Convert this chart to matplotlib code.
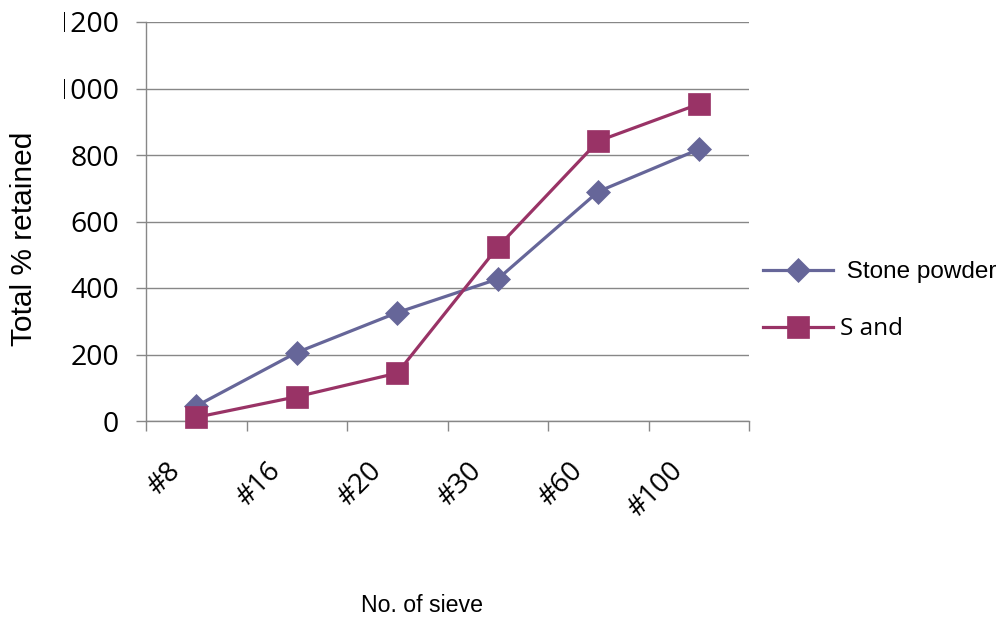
import matplotlib
matplotlib.use("Agg")
import matplotlib.pyplot as plt
from matplotlib.transforms import Bbox, TransformedBbox, IdentityTransform, ScaledTranslation

categories = ["#8", "#16", "#20", "#30", "#60", "#100"]
stone_powder = [45, 206, 326, 427, 690, 817]
sand = [11, 73, 144, 523, 842, 953]
y_ticks = [0, 200, 400, 600, 800, 1000, 1200]

W, H = 1005, 617
fig = plt.figure(figsize=(W / 100, H / 100), dpi=100)
ax = fig.add_axes([146 / W, 1 - 421 / H, 603 / W, 399 / H])

grid_c = "#878787"
x = list(range(len(categories)))

l1, = ax.plot(x, stone_powder, color="#666699", lw=2.3, marker="D", ms=12.5,
              mec="#666699", mew=0.5, zorder=3, clip_on=False)
l2, = ax.plot(x, sand, color="#993366", lw=2.3, marker="s", ms=15.5,
              mec="#993366", mew=0.5, zorder=4, clip_on=False)

ax.set_xlim(-0.5, len(categories) - 0.5)
ax.set_ylim(0, 1200)
ax.set_yticks(y_ticks)
ax.set_yticklabels([str(v) for v in y_ticks], fontfamily="Open Sans", fontsize=20.5)
ax.yaxis.grid(True, color=grid_c, lw=1.0)
ax.set_axisbelow(True)

ax.set_xticks([i - 0.5 for i in range(len(categories) + 1)])
ax.set_xticklabels([])
ax.set_xticks(x, minor=True)
ax.set_xticklabels(categories, minor=True, rotation=45, ha="right", va="top",
                   fontfamily="Open Sans", fontsize=20)
ax.tick_params(axis="x", which="minor", length=0, pad=26)
ax.tick_params(axis="x", which="major", length=7, color=grid_c, width=1.0)
ax.tick_params(axis="y", length=7.2, color=grid_c, width=1.0, pad=12)

off = ScaledTranslation(-10 / 100, 0, fig.dpi_scale_trans)
for lab in ax.get_xticklabels(minor=True):
    lab.set_transform(lab.get_transform() + off)

clip = TransformedBbox(Bbox([[64, 0], [W, H]]), IdentityTransform())
for lab in ax.get_yticklabels():
    lab.set_clip_box(clip)
    lab.set_clip_on(True)

for s in ["top", "right"]:
    ax.spines[s].set_visible(False)
for s in ["left", "bottom"]:
    ax.spines[s].set_color(grid_c)
    ax.spines[s].set_linewidth(1.0)

fig.text(24 / W, 1 - 239 / H, "Total % retained", rotation=90, ha="center", va="center",
         fontfamily="Liberation Sans", fontsize=21.5)
fig.text(422 / W, 1 - 611.5 / H, "No. of sieve", ha="center", va="baseline",
         fontfamily="Liberation Sans", fontsize=16.7)

leg = ax.legend([l1, l2], [" Stone powder", "S and"], loc="upper left",
                bbox_to_anchor=(763 / W, 1 - 261 / H), bbox_transform=fig.transFigure,
                frameon=False, borderpad=0, borderaxespad=0, handlelength=2.9,
                handletextpad=0.25, labelspacing=1.4, numpoints=1,
                prop={"family": "Liberation Sans", "size": 17.5})
leg.get_texts()[1].set_fontfamily("Open Sans")
leg.get_texts()[1].set_fontsize(17.5)

fig.savefig("out.png", dpi=100)
